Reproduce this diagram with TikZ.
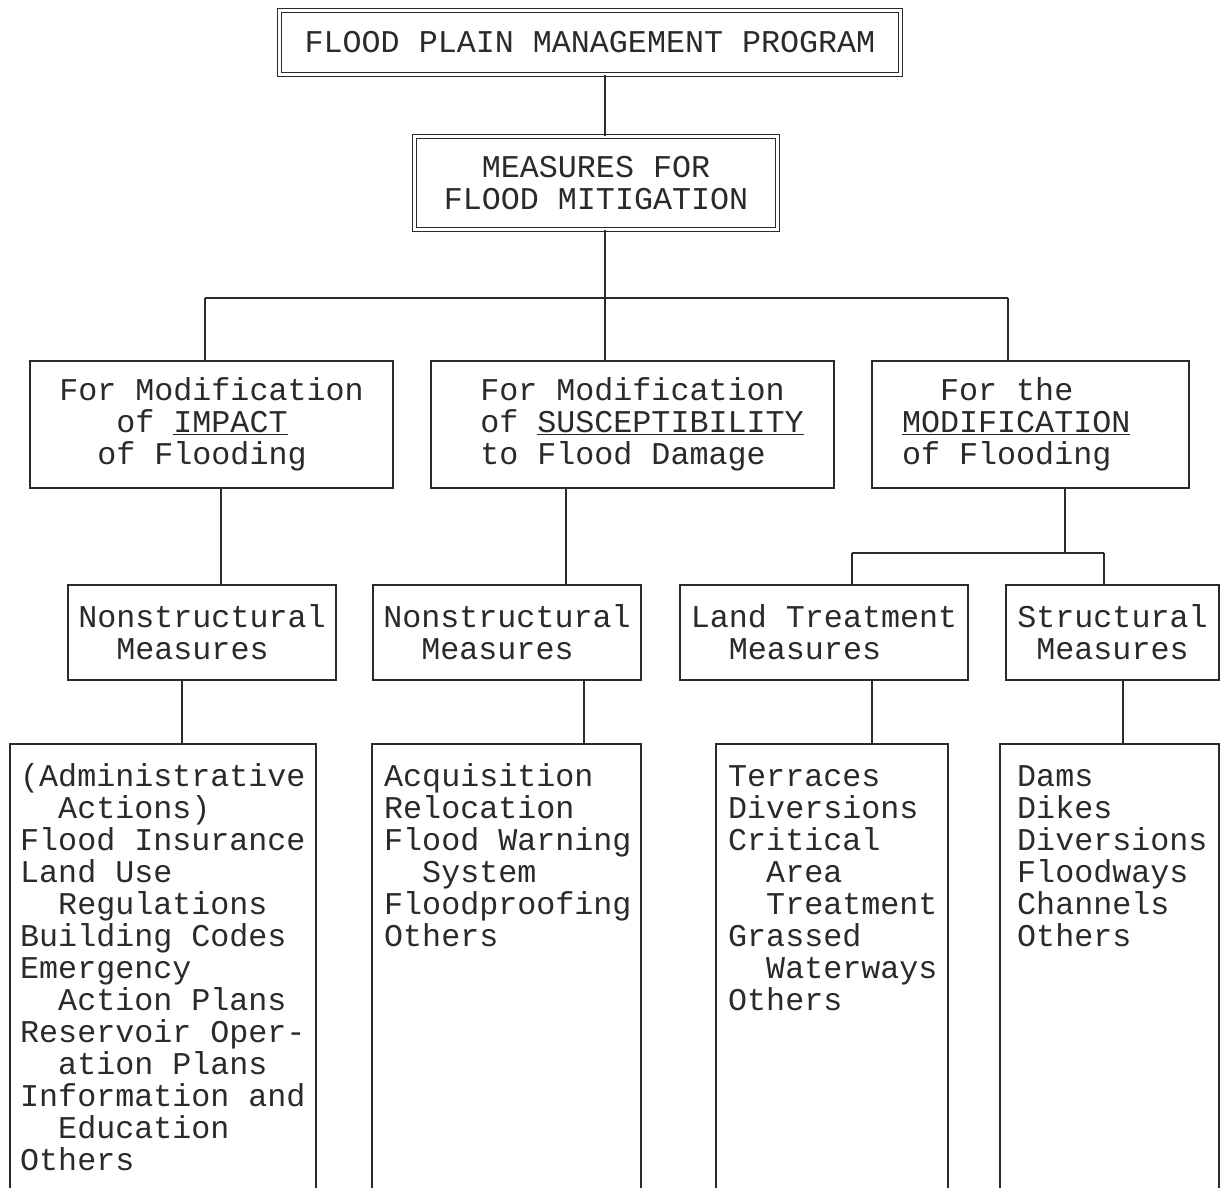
\documentclass[tikz,border=0pt]{standalone}
\usepackage{fontspec}
\setmainfont{Liberation Mono}
\usetikzlibrary{positioning,calc}
\definecolor{ink}{HTML}{2A2A2A}
\tikzstyle{program} = [rectangle, draw=ink, double, double distance=2.8pt, line width=1.3pt, align=center, text=ink, inner sep=0pt]
\tikzstyle{measure} = [rectangle, draw=ink, line width=1.8pt, align=left, text=ink, inner sep=0pt]
\tikzstyle{listbox} = [rectangle, draw=ink, line width=1.8pt, inner sep=0pt]
\tikzstyle{items} = [anchor=base west, align=left, text=ink, inner sep=0pt]
\tikzstyle{link} = [draw=ink, line width=1.8pt]
\newcommand{\ind}[1]{\hspace*{#1em}}

\begin{document}
\begin{tikzpicture}[x=1pt,y=-1pt,font=\fontsize{31.7}{32}\selectfont]
\useasboundingbox (0,0) rectangle (1221,1187);
\clip (0,0) rectangle (1221,1187);
\node (prog) at (590,42.5) [program, minimum width=621, minimum height=64] {FLOOD PLAIN MANAGEMENT PROGRAM};
\node (mitig) at (596,183) [program, minimum width=363, minimum height=93] {MEASURES FOR\\FLOOD MITIGATION};
\node (impact) at (211.5,424.5) [measure, minimum width=363, minimum height=127] {For Modification\\\ind{1.8}of \underline{IMPACT}\\\ind{1.2}of Flooding};
\node (susc) at (632.5,424.5) [measure, minimum width=403, minimum height=127] {\ind{0.6}For Modification\\\ind{0.6}of \underline{SUSCEPTIBILITY}\\\ind{0.6}to Flood Damage};
\node (modif) at (1030.5,424.5) [measure, minimum width=317, minimum height=127] {\ind{1.2}For the\\\underline{MODIFICATION}\makebox[0.9em]{}\\of Flooding};
\node (nsa) at (202,632.5) [measure, minimum width=268, minimum height=95] {Nonstructural\\\ind{1.2}Measures};
\node (nsb) at (507,632.5) [measure, minimum width=268, minimum height=95] {Nonstructural\\\ind{1.2}Measures};
\node (land) at (824,632.5) [measure, minimum width=288, minimum height=95] {Land Treatment\\\ind{1.2}Measures};
\node (struct) at (1112.5,632.5) [measure, minimum width=213, minimum height=95] {Structural\\\ind{0.6}Measures};
\node (lista) at (163,972) [listbox, minimum width=306, minimum height=456] {};
\node (listb) at (506.5,972) [listbox, minimum width=269, minimum height=456] {};
\node (listc) at (832,972) [listbox, minimum width=232, minimum height=456] {};
\node (listd) at (1109.5,972) [listbox, minimum width=219, minimum height=456] {};
\node (itemsa) at (20,1170) [items] {(Administrative\\\ind{1.2}Actions)\\Flood Insurance\\Land Use\\\ind{1.2}Regulations\\Building Codes\\Emergency\\\ind{1.2}Action Plans\\Reservoir Oper-\\\ind{1.2}ation Plans\\Information and\\\ind{1.2}Education\\Others};
\node (itemsb) at (384,946) [items] {Acquisition\\Relocation\\Flood Warning\\\ind{1.2}System\\Floodproofing\\Others};
\node (itemsc) at (728,1010) [items] {Terraces\\Diversions\\Critical\\\ind{1.2}Area\\\ind{1.2}Treatment\\Grassed\\\ind{1.2}Waterways\\Others};
\node (itemsd) at (1017,946) [items] {Dams\\Dikes\\Diversions\\Floodways\\Channels\\Others};
\coordinate (busm) at (605,298);
\coordinate (busl) at (205,298);
\coordinate (busr) at (1008,298);
\coordinate (ka) at (221,0);
\coordinate (kb) at (566,0);
\coordinate (kc) at (182,0);
\coordinate (kd) at (584,0);
\coordinate (fm) at (1065,553);
\coordinate (fl) at (852,553);
\coordinate (fr) at (1104,553);
\coordinate (ke) at (872,0);
\coordinate (kf) at (1123,0);
\draw[link] (prog.south -| busm) -- (mitig.north -| busm);
\draw[link] (mitig.south -| busm) -- (susc.north -| busm);
\draw[link] (busl) -- (busr);
\draw[link] (busl) -- (impact.north -| busl);
\draw[link] (busr) -- (modif.north -| busr);
\draw[link] (impact.south -| ka) -- (nsa.north -| ka);
\draw[link] (susc.south -| kb) -- (nsb.north -| kb);
\draw[link] (modif.south -| fm) -- (fm);
\draw[link] (fl) -- (fr);
\draw[link] (fl) -- (land.north -| fl);
\draw[link] (fr) -- (struct.north -| fr);
\draw[link] (nsa.south -| kc) -- (lista.north -| kc);
\draw[link] (nsb.south -| kd) -- (listb.north -| kd);
\draw[link] (land.south -| ke) -- (listc.north -| ke);
\draw[link] (struct.south -| kf) -- (listd.north -| kf);
\end{tikzpicture}
\end{document}
